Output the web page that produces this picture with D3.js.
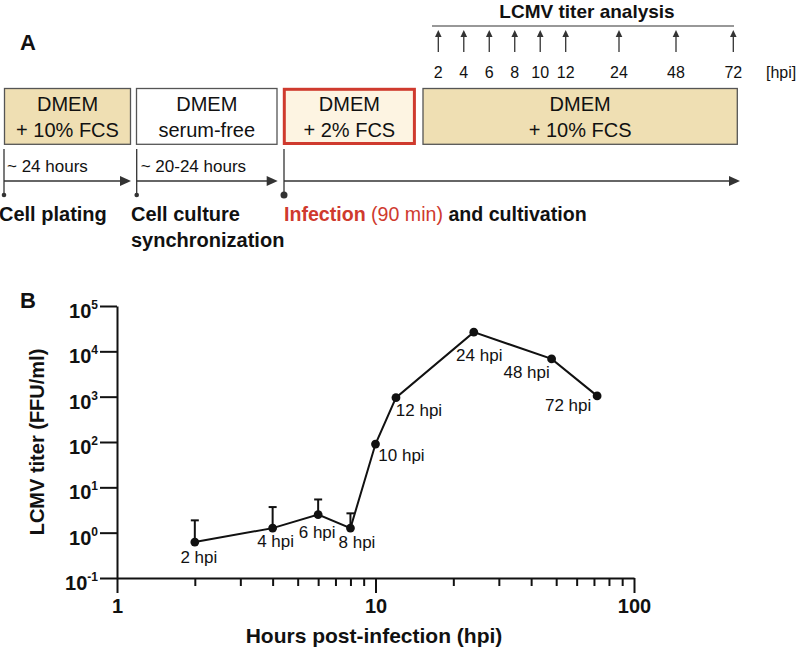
<!DOCTYPE html>
<html>
<head>
<meta charset="utf-8">
<script src="https://cdn.jsdelivr.net/npm/d3@7/dist/d3.min.js"></script>
<style>
  html, body { margin: 0; padding: 0; background: #fff; }
  svg { display: block; font-family: "Liberation Sans", Arial, Helvetica, sans-serif; }
</style>
</head>
<body>
<svg id="chart" width="797" height="650"></svg>
<script>
// ---------------- DATA ----------------
// Panel B: LCMV titer time course
const hours = [2, 4, 6, 8, 10, 12, 24, 48, 72];
const titer = [0.62, 1.26, 2.5, 1.26, 90, 950, 26500, 6800, 1040];
const errorUpper = [1.87, 3.67, 5.4, 2.67, null, null, null, null, null];
const pointLabels = ["2 hpi", "4 hpi", "6 hpi", "8 hpi", "10 hpi", "12 hpi", "24 hpi", "48 hpi", "72 hpi"];
const yTickValues = [0.1, 1, 10, 100, 1000, 10000, 100000];
const yTickExponents = ["-1", "0", "1", "2", "3", "4", "5"];
const xMajorTicks = [1, 10, 100];
const xMajorLabels = ["1", "10", "100"];
const xMinorTicks = [2, 3, 4, 5, 6, 7, 8, 9, 20, 30, 40, 50, 60, 70, 80, 90];

// Panel A: experimental scheme
const sampleTimes = [2, 4, 6, 8, 10, 12, 24, 48, 72];
const sampleLabels = ["2", "4", "6", "8", "10", "12", "24", "48", "72"];
const mediumLine1 = ["DMEM", "DMEM", "DMEM", "DMEM"];
const mediumLine2 = ["+ 10% FCS", "serum-free", "+ 2% FCS", "+ 10% FCS"];
const durationLabels = ["~ 24 hours", "~ 20-24 hours"];

// ---------------- LAYOUT / STYLE ----------------
const svg = d3.select("#chart");
const FONT = "'Liberation Sans', Arial, Helvetica, sans-serif";
const INK = "#111";
const LINEGRAY = "#333";
const RED = "#cf3a2e";
const TAN = "#efdfb3";
const CREAM = "#fdf4e2";

// ===== Panel A =====
svg.append("text").attr("x", 20).attr("y", 50).attr("font-size", 22).attr("font-weight", "bold")
  .attr("fill", INK).text("A");

// sample time scale (piecewise, as drawn in the scheme)
const tScale = d3.scaleLinear().domain([2, 12, 24, 48, 72]).range([438.3, 565.7, 619, 676, 733.3]);

svg.append("text").attr("x", 587).attr("y", 18).attr("text-anchor", "middle")
  .attr("font-size", 19).attr("font-weight", "bold").attr("fill", INK).text("LCMV titer analysis");
svg.append("line").attr("x1", 432).attr("x2", 734).attr("y1", 26).attr("y2", 26)
  .attr("stroke", LINEGRAY).attr("stroke-width", 1.2);

const arrowsG = svg.append("g");
sampleTimes.forEach((t, i) => {
  const x = tScale(t);
  arrowsG.append("line").attr("x1", x).attr("x2", x).attr("y1", 35).attr("y2", 52)
    .attr("stroke", LINEGRAY).attr("stroke-width", 1.3);
  arrowsG.append("path").attr("d", `M${x},30 L${x - 3.3},37 L${x + 3.3},37 Z`).attr("fill", LINEGRAY);
  arrowsG.append("text").attr("x", x).attr("y", 78).attr("text-anchor", "middle")
    .attr("font-size", 16).attr("fill", INK).text(sampleLabels[i]);
});
svg.append("text").attr("x", 766).attr("y", 78).attr("font-size", 16).attr("fill", INK).text("[hpi]");

// medium boxes
const boxLayout = [
  { x0: 4.5, x1: 130.5, fill: TAN, stroke: "#555", sw: 1.3 },
  { x0: 136.5, x1: 277, fill: "#fff", stroke: "#555", sw: 1.3 },
  { x0: 283.5, x1: 415.2, fill: CREAM, stroke: RED, sw: 3 },
  { x0: 423, x1: 737.3, fill: TAN, stroke: "#555", sw: 1.3 }
];
const boxTop = 88.5, boxBottom = 144.3;
mediumLine1.forEach((l1, i) => {
  const b = boxLayout[i];
  const ins = b.sw === 3 ? 0.8 : 0;
  svg.append("rect").attr("x", b.x0 + ins).attr("y", boxTop + ins)
    .attr("width", b.x1 - b.x0 - 2 * ins).attr("height", boxBottom - boxTop - 2 * ins)
    .attr("fill", b.fill).attr("stroke", b.stroke).attr("stroke-width", b.sw);
  const cx = (b.x0 + b.x1) / 2;
  svg.append("text").attr("x", cx).attr("y", 111).attr("text-anchor", "middle")
    .attr("font-size", 20).attr("fill", INK).text(l1);
  svg.append("text").attr("x", cx).attr("y", 136.5).attr("text-anchor", "middle")
    .attr("font-size", 20).attr("fill", INK).text(mediumLine2[i]);
});

// timeline
const tlY = 181;
const segs = [
  { x0: 4, tip: 131, r: 2.3, label: durationLabels[0], lx: 7 },
  { x0: 136.7, tip: 277.7, r: 2.3, label: durationLabels[1], lx: 140.7 },
  { x0: 284, tip: 740, r: 3.5, label: null }
];
segs.forEach(s => {
  svg.append("line").attr("x1", s.x0).attr("x2", s.x0).attr("y1", 149).attr("y2", 195)
    .attr("stroke", LINEGRAY).attr("stroke-width", 1.3);
  svg.append("circle").attr("cx", s.x0).attr("cy", 195).attr("r", s.r).attr("fill", LINEGRAY);
  svg.append("line").attr("x1", s.x0).attr("x2", s.tip - 8).attr("y1", tlY).attr("y2", tlY)
    .attr("stroke", LINEGRAY).attr("stroke-width", 1.3);
  svg.append("path").attr("d", `M${s.tip},${tlY} L${s.tip - 11},${tlY - 5} L${s.tip - 11},${tlY + 5} Z`)
    .attr("fill", LINEGRAY);
  if (s.label) {
    svg.append("text").attr("x", s.lx).attr("y", 172.3).attr("font-size", 17).attr("fill", INK).text(s.label);
  }
});

svg.append("text").attr("x", -1).attr("y", 220.7).attr("font-size", 20).attr("font-weight", "bold")
  .attr("fill", INK).text("Cell plating");
svg.append("text").attr("x", 131).attr("y", 220.7).attr("font-size", 20).attr("font-weight", "bold")
  .attr("fill", INK).text("Cell culture");
svg.append("text").attr("x", 131).attr("y", 246.5).attr("font-size", 20).attr("font-weight", "bold")
  .attr("fill", INK).text("synchronization");
const inf = svg.append("text").attr("x", 284).attr("y", 220.7).attr("font-size", 19.6).attr("fill", INK);
inf.append("tspan").attr("font-weight", "bold").attr("fill", RED).text("Infection ");
inf.append("tspan").attr("fill", RED).text("(90 min)");
inf.append("tspan").attr("font-weight", "bold").attr("fill", INK).text(" and cultivation");

// ===== Panel B =====
svg.append("text").attr("x", 20).attr("y", 308).attr("font-size", 22).attr("font-weight", "bold")
  .attr("fill", INK).text("B");

const x = d3.scaleLog().domain([1, 100]).range([117, 634]);
const y = d3.scaleLog().domain([0.1, 100000]).range([578, 306]);

// x axis minor ticks
svg.append("g").attr("transform", `translate(0,${y(0.1)})`)
  .call(d3.axisBottom(x).tickValues(xMinorTicks).tickSize(8).tickSizeOuter(0).tickFormat(""))
  .call(g => g.select(".domain").remove())
  .call(g => g.selectAll("line").attr("stroke", INK).attr("stroke-width", 2));
// x axis major ticks
svg.append("g").attr("transform", `translate(0,${y(0.1)})`)
  .call(d3.axisBottom(x).tickValues(xMajorTicks).tickSize(15).tickSizeOuter(0)
    .tickFormat((d, i) => xMajorLabels[i]))
  .call(g => g.select(".domain").attr("stroke", INK).attr("stroke-width", 2))
  .call(g => g.selectAll("line").attr("stroke", INK).attr("stroke-width", 2))
  .call(g => g.selectAll("text").attr("font-family", FONT).attr("font-size", 20)
    .attr("font-weight", "bold").attr("fill", INK).attr("y", 0).attr("dy", null)
    .attr("transform", "translate(0,35.3)"));

// y axis
const yAxisG = svg.append("g").attr("transform", `translate(${x(1)},0)`)
  .call(d3.axisLeft(y).tickValues(yTickValues).tickSize(17).tickSizeOuter(0).tickFormat(""))
  .call(g => g.select(".domain").attr("stroke", INK).attr("stroke-width", 2))
  .call(g => g.selectAll("line").attr("stroke", INK).attr("stroke-width", 2));
yAxisG.selectAll(".tick").each(function (d, i) {
  const t = d3.select(this).append("text").attr("x", -19).attr("y", 11.5)
    .attr("text-anchor", "end").attr("font-family", FONT).attr("font-weight", "bold").attr("fill", INK);
  t.append("tspan").attr("font-size", 20).text("10");
  t.append("tspan").attr("font-size", 12).attr("dy", -9).text(yTickExponents[i]);
});

svg.append("text").attr("transform", `translate(44,${(306 + 578) / 2}) rotate(-90)`)
  .attr("text-anchor", "middle").attr("font-size", 20).attr("font-weight", "bold").attr("fill", INK)
  .text("LCMV titer (FFU/ml)");
svg.append("text").attr("x", 374).attr("y", 643.3).attr("text-anchor", "middle")
  .attr("font-size", 21).attr("font-weight", "bold").attr("fill", INK)
  .text("Hours post-infection (hpi)");

// data
const pts = hours.map((h, i) => ({ h, v: titer[i], e: errorUpper[i], label: pointLabels[i] }));
const capHalf = 4;
const errG = svg.append("g");
pts.filter(p => p.e != null).forEach(p => {
  errG.append("line").attr("x1", x(p.h)).attr("x2", x(p.h)).attr("y1", y(p.v)).attr("y2", y(p.e))
    .attr("stroke", INK).attr("stroke-width", 2);
  errG.append("line").attr("x1", x(p.h) - capHalf).attr("x2", x(p.h) + capHalf)
    .attr("y1", y(p.e)).attr("y2", y(p.e)).attr("stroke", INK).attr("stroke-width", 2);
});
svg.append("path").datum(pts)
  .attr("d", d3.line().x(d => x(d.h)).y(d => y(d.v)))
  .attr("fill", "none").attr("stroke", INK).attr("stroke-width", 2);
svg.append("g").selectAll("circle").data(pts).join("circle")
  .attr("cx", d => x(d.h)).attr("cy", d => y(d.v)).attr("r", 4.4).attr("fill", INK);

// point label offsets (label centre / baseline relative to point)
const labelOffsets = [[4, 21], [3, 19], [-1, 23], [6.5, 20], [26, 17], [23, 18], [5.5, 28.5], [-25, 19.5], [-29, 15]];
svg.append("g").selectAll("text").data(pts).join("text")
  .attr("x", (d, i) => x(d.h) + labelOffsets[i][0])
  .attr("y", (d, i) => y(d.v) + labelOffsets[i][1])
  .attr("text-anchor", "middle").attr("font-size", 17).attr("fill", INK)
  .text(d => d.label);
</script>
</body>
</html>
